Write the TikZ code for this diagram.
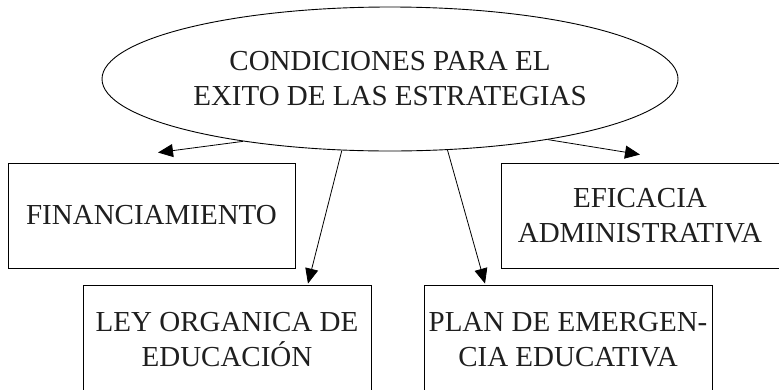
\documentclass[tikz,border=0pt]{standalone}
\usepackage{fontspec}
\setmainfont{Liberation Serif}
\usetikzlibrary{shapes.geometric,arrows.meta,calc}
\begin{document}
\begin{tikzpicture}[x=1pt,y=-1pt,
  every node/.style={font=\fontsize{29}{35}\selectfont, text=black!88},
  oval/.style={ellipse, draw, line width=0.9pt, inner sep=0pt, minimum width=576pt, minimum height=144pt, align=center},
  box/.style={rectangle, draw, line width=0.9pt, inner sep=0pt, align=center},
  conn/.style={line width=0.8pt, -{Triangle[length=15pt,width=13pt]}}
]
\useasboundingbox (0,0) rectangle (779,389);
\node[oval] (c) at (390,79) {CONDICIONES PARA EL\\EXITO DE LAS ESTRATEGIAS};
\node[box, minimum width=287pt, minimum height=105pt] (fin) at (151.5,215.5) {FINANCIAMIENTO};
\node[box, minimum width=278pt, minimum height=105pt] (efi) at (640,215.5) {EFICACIA\\ADMINISTRATIVA};
\node[box, minimum width=288pt, minimum height=110pt] (ley) at (227,340) {LEY ORGANICA DE\\EDUCACIÓN};
\node[box, minimum width=288pt, minimum height=110pt] (plan) at (568,340) {PLAN DE EMERGEN-\\CIA EDUCATIVA};
\draw[conn] (c.203.9) -- ($(fin.north)+(6.5,-10)$);
\draw[conn] (c.236.3) -- ($(ley.north)+(81,-1)$);
\draw[conn] (c.309.8) -- ($(plan.north)+(-83,-1)$);
\draw[conn] (c.339.2) -- ($(efi.north)+(0,-8)$);
\end{tikzpicture}
\end{document}
